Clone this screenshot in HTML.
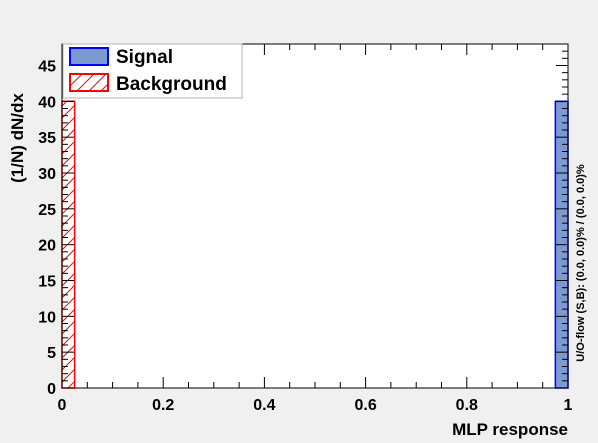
<!DOCTYPE html>
<html><head><meta charset="utf-8"><style>
body{margin:0;background:#f0f0f0;}
svg{display:block;font-family:"Liberation Sans",sans-serif;font-weight:bold;}
</style></head><body>
<svg width="598" height="443">
<defs>
<pattern id="hatch" patternUnits="userSpaceOnUse" width="12" height="12">
<path d="M-3,15 L15,-3 M-3,3 L3,-3 M9,15 L15,9" stroke="#f00" stroke-width="1"/>
</pattern>
</defs>
<rect x="62" y="44" width="506" height="344" fill="#fff"/>
<g id="marks"></g>
<g id="axes"></g>
<rect x="62" y="44" width="506" height="344" fill="none" stroke="#000"/>
<g>
<rect x="63" y="44" width="179" height="54" fill="#fff" stroke="#b0b0b0"/>
<rect x="70" y="48" width="38" height="17" fill="#7d99d1" stroke="#00f" stroke-width="2"/>
<text x="116" y="63" font-size="19">Signal</text>
<rect x="70" y="74" width="38" height="17" fill="url(#hatch)" stroke="#f00" stroke-width="2"/>
<text x="116" y="90" font-size="19">Background</text>
</g>
<text x="568" y="435" font-size="17" text-anchor="end">MLP response</text>
<text transform="translate(23,138) rotate(-90)" font-size="17" text-anchor="middle">(1/N) dN/dx</text>
<text transform="translate(584,263) rotate(-90)" font-size="11" text-anchor="middle">U/O-flow (S,B): (0.0, 0.0)% / (0.0, 0.0)%</text>
</svg>
<script>
const binEdges=[0,0.025,0.975,1];
const signalValues=[0,0,40];
const backgroundValues=[40,0,0];
const xTicks=[0,0.2,0.4,0.6,0.8,1];
const xTickLabels=["0","0.2","0.4","0.6","0.8","1"];
const yTicks=[0,5,10,15,20,25,30,35,40,45];
const yTickLabels=["0","5","10","15","20","25","30","35","40","45"];
const X0=62,X1=568,Y0=388,Y1=44,YMAX=48;
const sx=v=>X0+v*(X1-X0);
const sy=v=>Y0-v/YMAX*(Y0-Y1);
const NS="http://www.w3.org/2000/svg";
const marks=document.getElementById('marks'),axes=document.getElementById('axes');
function mk(tag,attrs,parent){const e=document.createElementNS(NS,tag);for(const k in attrs)e.setAttribute(k,attrs[k]);parent.appendChild(e);return e;}
for(let i=0;i<signalValues.length;i++){
 if(signalValues[i]>0){const r=mk('rect',{x:sx(binEdges[i]),y:sy(signalValues[i]),width:sx(binEdges[i+1])-sx(binEdges[i]),height:Y0-sy(signalValues[i]),fill:'#7d99d1',stroke:'#00f','stroke-width':1.5},marks);
 
 }
 if(backgroundValues[i]>0){const r=mk('rect',{x:sx(binEdges[i]),y:sy(backgroundValues[i]),width:sx(binEdges[i+1])-sx(binEdges[i]),height:Y0-sy(backgroundValues[i]),fill:'url(#hatch)',stroke:'#f00','stroke-width':1.5},marks);
 
 }
}
for(let v=0;v<=1.0001;v+=0.05){const major=Math.abs(v*5-Math.round(v*5))<1e-6;const L=major?11:6;const x=sx(v);
 mk('line',{x1:x,x2:x,y1:Y0,y2:Y0-L,stroke:'#000'},axes);mk('line',{x1:x,x2:x,y1:Y1,y2:Y1+L,stroke:'#000'},axes);}
xTicks.forEach((v,i)=>{const t=mk('text',{x:sx(v),y:410,'font-size':16,'text-anchor':'middle'},axes);t.textContent=xTickLabels[i];
 
 });
for(let v=0;v<=YMAX;v+=1){const major=v%5===0;const L=major?12:6;const y=sy(v);
 mk('line',{x1:X0,x2:X0+L,y1:y,y2:y,stroke:'#000'},axes);mk('line',{x1:X1,x2:X1-L,y1:y,y2:y,stroke:'#000'},axes);}
yTicks.forEach((v,i)=>{const t=mk('text',{x:56,y:sy(v)+6,'font-size':16,'text-anchor':'end'},axes);t.textContent=yTickLabels[i];
 
 });
</script>
</body></html>
